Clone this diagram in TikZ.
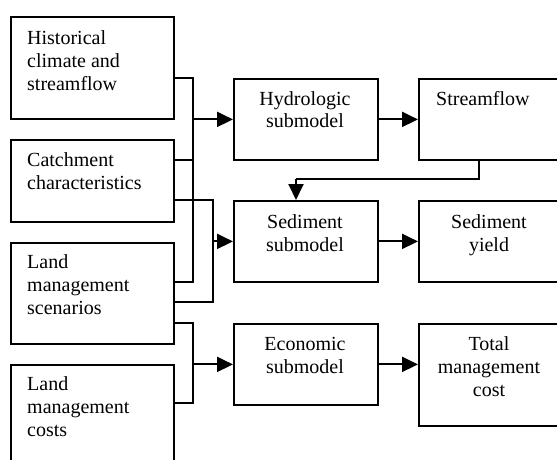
\documentclass[tikz,border=0pt]{standalone}
\usepackage{fontspec}
\setmainfont{Liberation Serif}
\usetikzlibrary{arrows.meta}
\begin{document}
\begin{tikzpicture}[x=1pt,y=-1pt,
  box/.style={draw,line width=1.8pt,inner sep=0pt,anchor=north west},
  lbox/.style={box,minimum width=163pt},
  mbox/.style={box,minimum width=144pt},
  rbox/.style={box,minimum width=142pt},
  txt/.style={font=\fontsize{20}{23}\selectfont,inner sep=0pt},
  ltxt/.style={txt,anchor=base west,align=left},
  ctxt/.style={txt,anchor=base,align=center},
  link/.style={line width=2pt},
  arr/.style={line width=2pt,-{Triangle[length=16pt,width=15pt]}}]
\useasboundingbox (0,0) rectangle (557,460);
\clip (0,0) rectangle (557,460);
% left column
\node[lbox,minimum height=102pt] (hist) at (10,16) {};
\node[lbox,minimum height=82pt] (catch) at (10,139) {};
\node[lbox,minimum height=101pt] (scen) at (10,242) {};
\node[lbox,minimum height=110pt] (cost) at (10,364) {};
% (base anchor = baseline of the last line)
\node[ltxt] (histt) at (27,90) {Historical\\climate and\\streamflow};
\node[ltxt] (catcht) at (27,189) {Catchment\\characteristics};
\node[ltxt] (scent) at (27,314) {Land\\management\\scenarios};
\node[ltxt] (costt) at (27,436) {Land\\management\\costs};
% middle column
\node[mbox,minimum height=81pt] (hydro) at (233,78) {};
\node[mbox,minimum height=81pt] (sedm) at (233,200) {};
\node[mbox,minimum height=81pt] (econ) at (233,323) {};
\node[ctxt] (hydrot) at (305,128) {Hydrologic\\submodel};
\node[ctxt] (sedmt) at (305,251) {Sediment\\submodel};
\node[ctxt] (econt) at (305,373) {Economic\\submodel};
% right column
\node[rbox,minimum height=81pt] (stream) at (418,78) {};
\node[rbox,minimum height=81pt] (sedy) at (418,200) {};
\node[rbox,minimum height=102pt] (total) at (418,323) {};
\node[ltxt] (streamt) at (436,106) {Streamflow};
\node[ctxt] (sedyt) at (489,251) {Sediment\\yield};
\node[ctxt] (totalt) at (489,396) {Total\\management\\cost};
% bus coordinates
\coordinate (a1) at (193,78);
\coordinate (a2) at (193,160);
\coordinate (a3) at (193,282);
\coordinate (b1) at (213,200);
\coordinate (b2) at (213,302);
\coordinate (c1) at (193,323);
\coordinate (c2) at (193,403);
\coordinate (s1) at (479,179);
\coordinate (s2) at (296,179);
% bus A: to hydrologic submodel
\draw[link] (hist.east |- a1) -- (a1) -- (a3) -- (scen.east |- a3);
\draw[link] (catch.east |- a2) -- (a2);
\draw[arr] (hydro.west -| a1) -- (hydro.west);
% bus B: to sediment submodel
\draw[link] (catch.east |- b1) -- (b1) -- (b2) -- (scen.east |- b2);
\draw[arr] (sedm.west -| b1) -- (sedm.west);
% bus C: to economic submodel
\draw[link] (scen.east |- c1) -- (c1) -- (c2) -- (cost.east |- c2);
\draw[arr] (econ.west -| c1) -- (econ.west);
% outputs
\draw[arr] (hydro.east) -- (hydro.east -| stream.west);
\draw[arr] (sedm.east) -- (sedm.east -| sedy.west);
\draw[arr] (econ.east) -- (econ.east -| total.west);
% streamflow feedback
\draw[link] (stream.south -| s1) -- (s1) -- (s2);
\draw[arr] (s2) -- (s2 |- sedm.north);
\end{tikzpicture}
\end{document}
